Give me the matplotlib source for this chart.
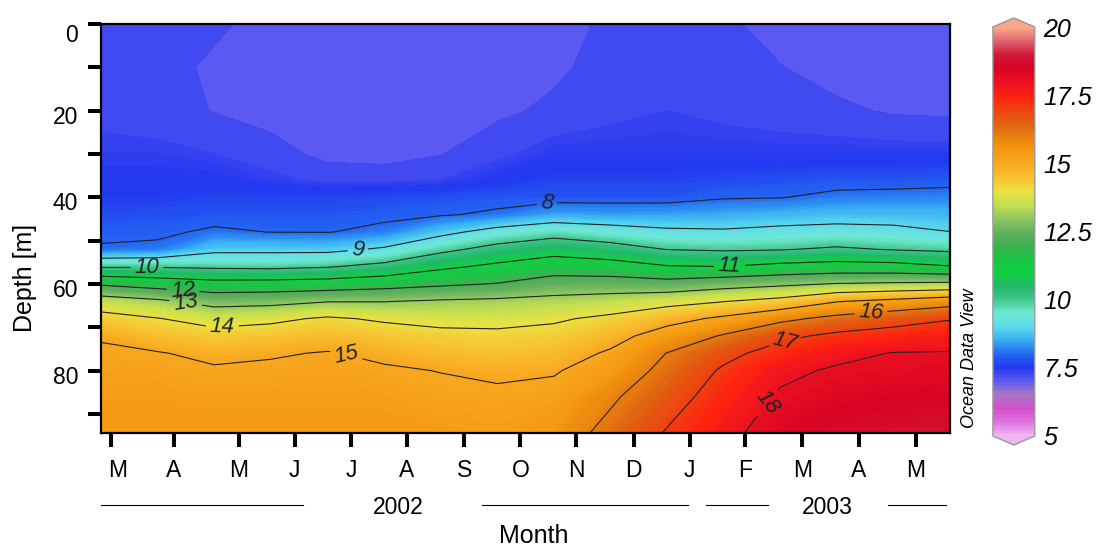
import numpy as np
import matplotlib.pyplot as plt
import matplotlib.transforms as mtransforms
from matplotlib.colors import LinearSegmentedColormap, Normalize
from matplotlib.cm import ScalarMappable

plt.rcParams["font.family"] = ["Liberation Sans", "DejaVu Sans"]

# grid columns (month axis units) and depths of the temperature section
month_pos = [0, 1, 2, 3, 4, 5, 6, 7, 8, 9, 10, 11, 12, 13, 14, 15]
depth_m = [0, 10, 20, 30, 36, 40, 44, 48, 52, 56, 60, 64, 68, 72, 76, 80, 86, 95]

# temperature [deg C], one row per depth
temp = [
    [7.25, 7.25, 7.2, 7.05, 7.0, 7.0, 7.0, 7.0, 7.05, 7.2, 7.3, 7.2, 7.05, 7.0, 7.0, 7.0],
    [7.25, 7.25, 7.1, 7.05, 7.0, 7.0, 7.0, 7.05, 7.1, 7.25, 7.3, 7.25, 7.16, 7.05, 7.0, 7.0],
    [7.3, 7.25, 7.14, 7.05, 7.0, 7.0, 7.05, 7.1, 7.2, 7.3, 7.35, 7.3, 7.25, 7.2, 7.12, 7.1],
    [7.4, 7.4, 7.35, 7.25, 7.08, 7.05, 7.14, 7.3, 7.45, 7.45, 7.45, 7.45, 7.45, 7.45, 7.45, 7.45],
    [7.5, 7.5, 7.5, 7.4, 7.3, 7.3, 7.35, 7.5, 7.65, 7.65, 7.65, 7.7, 7.75, 7.8, 7.8, 7.85],
    [7.6, 7.6, 7.65, 7.65, 7.65, 7.7, 7.75, 7.8, 7.8, 7.8, 7.8, 7.95, 7.98, 8.14, 8.18, 8.2],
    [7.7, 7.75, 7.8, 7.8, 7.8, 7.88, 7.95, 8.1, 8.45, 8.4, 8.42, 8.5, 8.59, 8.67, 8.66, 8.61],
    [7.9, 7.9, 8.09, 7.99, 7.98, 8.15, 8.76, 9.33, 9.65, 9.4, 9.16, 9.1, 9.22, 9.29, 9.22, 9.01],
    [8.05, 8.12, 8.79, 8.8, 8.79, 9.11, 9.78, 10.3, 10.64, 10.38, 9.98, 9.9, 9.95, 10.12, 9.95, 9.84],
    [9.9, 9.93, 9.85, 9.81, 9.94, 10.26, 10.82, 11.19, 11.52, 11.41, 11.06, 11.0, 11.25, 11.37, 11.32, 11.05],
    [11.88, 11.57, 11.33, 11.36, 11.43, 11.63, 11.85, 12.04, 12.44, 12.46, 12.36, 12.63, 12.83, 13.05, 13.14, 13.21],
    [13.49, 13.17, 12.67, 12.73, 12.96, 12.97, 13.1, 13.18, 13.28, 13.43, 13.69, 13.97, 14.29, 14.95, 15.24, 15.58],
    [14.32, 14.03, 13.68, 13.82, 14.11, 13.89, 13.74, 13.74, 13.89, 14.18, 14.68, 15.17, 15.78, 16.26, 16.6, 16.94],
    [14.94, 14.54, 14.31, 14.42, 14.6, 14.39, 14.23, 14.18, 14.27, 14.68, 15.42, 16.08, 16.79, 17.2, 17.42, 17.58],
    [15.1, 15.05, 14.8, 14.92, 15.05, 14.83, 14.6, 14.5, 14.6, 15.11, 16.02, 16.75, 17.36, 17.78, 18.03, 18.05],
    [15.25, 15.2, 15.1, 15.15, 15.2, 15.1, 14.98, 14.85, 14.93, 15.41, 16.26, 17.12, 17.82, 18.1, 18.2, 18.25],
    [15.35, 15.35, 15.3, 15.3, 15.3, 15.3, 15.2, 15.15, 15.25, 15.86, 16.62, 17.4, 18.1, 18.33, 18.42, 18.45],
    [15.45, 15.45, 15.45, 15.45, 15.45, 15.45, 15.4, 15.35, 15.55, 16.3, 17.1, 17.8, 18.4, 18.65, 18.75, 18.75],
]

month_ticks = [0.17, 1.29, 2.43, 3.42, 4.42, 5.40, 6.42, 7.41, 8.39, 9.41, 10.40, 11.38, 12.39, 13.39, 14.39]
month_labels = ["M", "A", "M", "J", "J", "A", "S", "O", "N", "D", "J", "F", "M", "A", "M"]

iso_levels = [8, 9, 10, 11, 12, 13, 14, 15, 16, 17, 18]
label_spots = [(7.88, 41.9), (4.54, 52.8), (0.81, 56.7), (11.11, 56.7), (1.45, 61.8),
               (1.48, 65.5), (2.14, 69.6), (4.33, 76.6), (13.6, 66.2), (12.08, 73.1),
               (11.7, 86.7)]

cbar_ticks = [5, 7.5, 10, 12.5, 15, 17.5, 20]
cbar_labels = ["5", "7.5", "10", "12.5", "15", "17.5", "20"]

# ODV-like palette
odv_vals = [5.0, 5.5, 6.0, 6.5, 7.0, 7.5, 8.0, 8.5, 9.0, 9.5, 10.0, 10.5, 11.0, 11.5, 12.0,
            12.5, 13.0, 13.5, 14.0, 14.5, 15.0, 15.5, 16.0, 16.5, 17.0, 17.5, 18.0, 18.5,
            19.0, 19.5, 20.0]
odv_cols = ["#f0b4f0", "#e070e0", "#d050cc", "#a878c4", "#5c58f2", "#2238f0", "#2468f2",
            "#38aef2", "#5cdcec", "#70e8d4", "#40c88c", "#20b868", "#10d040", "#18c444",
            "#40b050", "#64b060", "#90c860", "#c4e050", "#ece040", "#f8c030", "#f8a820",
            "#f59a10", "#e88010", "#e06010", "#f04010", "#ff2010", "#ec1020", "#d80424",
            "#d01838", "#e06070", "#f8a888"]

vmin, vmax = 5, 20
cmap = LinearSegmentedColormap.from_list(
    "odv", [((v - vmin) / (vmax - vmin), c) for v, c in zip(odv_vals, odv_cols)])
cmap.set_over("#f8a888")
cmap.set_under("#f0b4f0")
norm = Normalize(vmin, vmax)

fig = plt.figure(figsize=(11.02, 5.46), dpi=100)
ax = fig.add_axes([0.0917, 0.207, 0.7704, 0.749])

X, Y = np.meshgrid(month_pos, depth_m)
Z = np.array(temp)

# coarse bands in the cold surface layer, fine shading below
fill_levels = [6.9, 7.15, 7.35] + list(np.arange(7.4, 19.01, 0.05))
ax.contourf(X, Y, Z, levels=fill_levels, cmap=cmap, norm=norm)
cs = ax.contour(X, Y, Z, levels=iso_levels, colors="#222222", linewidths=0.8)
labels = ax.clabel(cs, fmt="%d", fontsize=16, inline=True, inline_spacing=4,
                   manual=label_spots)
for t in labels:
    t.set_style("italic")

ax.set_xlim(0, 15)
ax.set_ylim(94.4, 0)

ax.set_xticks(month_ticks, month_labels)
ax.set_yticks([0, 20, 40, 60, 80])
ax.set_yticks([10, 30, 50, 70, 90], minor=True)
ax.tick_params(axis="x", length=10, width=2.9, pad=9, labelsize=16.5)
ax.tick_params(axis="y", which="both", length=9.5, width=2.9, pad=7, labelsize=16.5)
for s in ax.spines.values():
    s.set_linewidth(1.6)

# small label nudges as in the original
first = ax.get_xticklabels()[0]
first.set_transform(first.get_transform() +
                    mtransforms.ScaledTranslation(0.07, 0, fig.dpi_scale_trans))
for i, lab in enumerate(ax.get_yticklabels()):
    dy = -0.09 if i == 0 else -0.04
    lab.set_transform(lab.get_transform() +
                      mtransforms.ScaledTranslation(0, dy, fig.dpi_scale_trans))

ax.set_ylabel("Depth [m]", fontsize=18)
ax.yaxis.set_label_coords(-0.0895, 0.378)
ax.yaxis.label.set_va("center")
ax.set_xlabel("Month", fontsize=18)
ax.xaxis.set_label_coords(0.51, -0.222)

# year brackets under the month labels
trans = ax.get_xaxis_transform()
year_y = -0.176
for x0, x1 in [(0, 3.57), (6.73, 10.37), (10.69, 11.79), (13.90, 14.93)]:
    ax.plot([x0, x1], [year_y, year_y], color="k", lw=0.8, transform=trans, clip_on=False)
ax.text(5.25, year_y - 0.006, "2002", transform=trans, ha="center", va="center", fontsize=16.5)
ax.text(12.84, year_y - 0.006, "2003", transform=trans, ha="center", va="center", fontsize=16.5)

cax = fig.add_axes([0.901, 0.185, 0.038, 0.782])
cb = fig.colorbar(ScalarMappable(norm=norm, cmap=cmap), cax=cax, extend="both",
                  extendfrac=0.022, ticks=cbar_ticks)
cb.ax.set_yticklabels(cbar_labels)
cb.ax.tick_params(length=0, labelsize=18, pad=6)
for t in cb.ax.get_yticklabels():
    t.set_style("italic")
cb.outline.set_edgecolor("#9a9a9a")
cb.outline.set_linewidth(1)

fig.text(0.880, 0.344, "Ocean Data View", rotation=90, ha="center", va="center",
         fontsize=13, style="italic")

fig.savefig("out.png", dpi=100)
